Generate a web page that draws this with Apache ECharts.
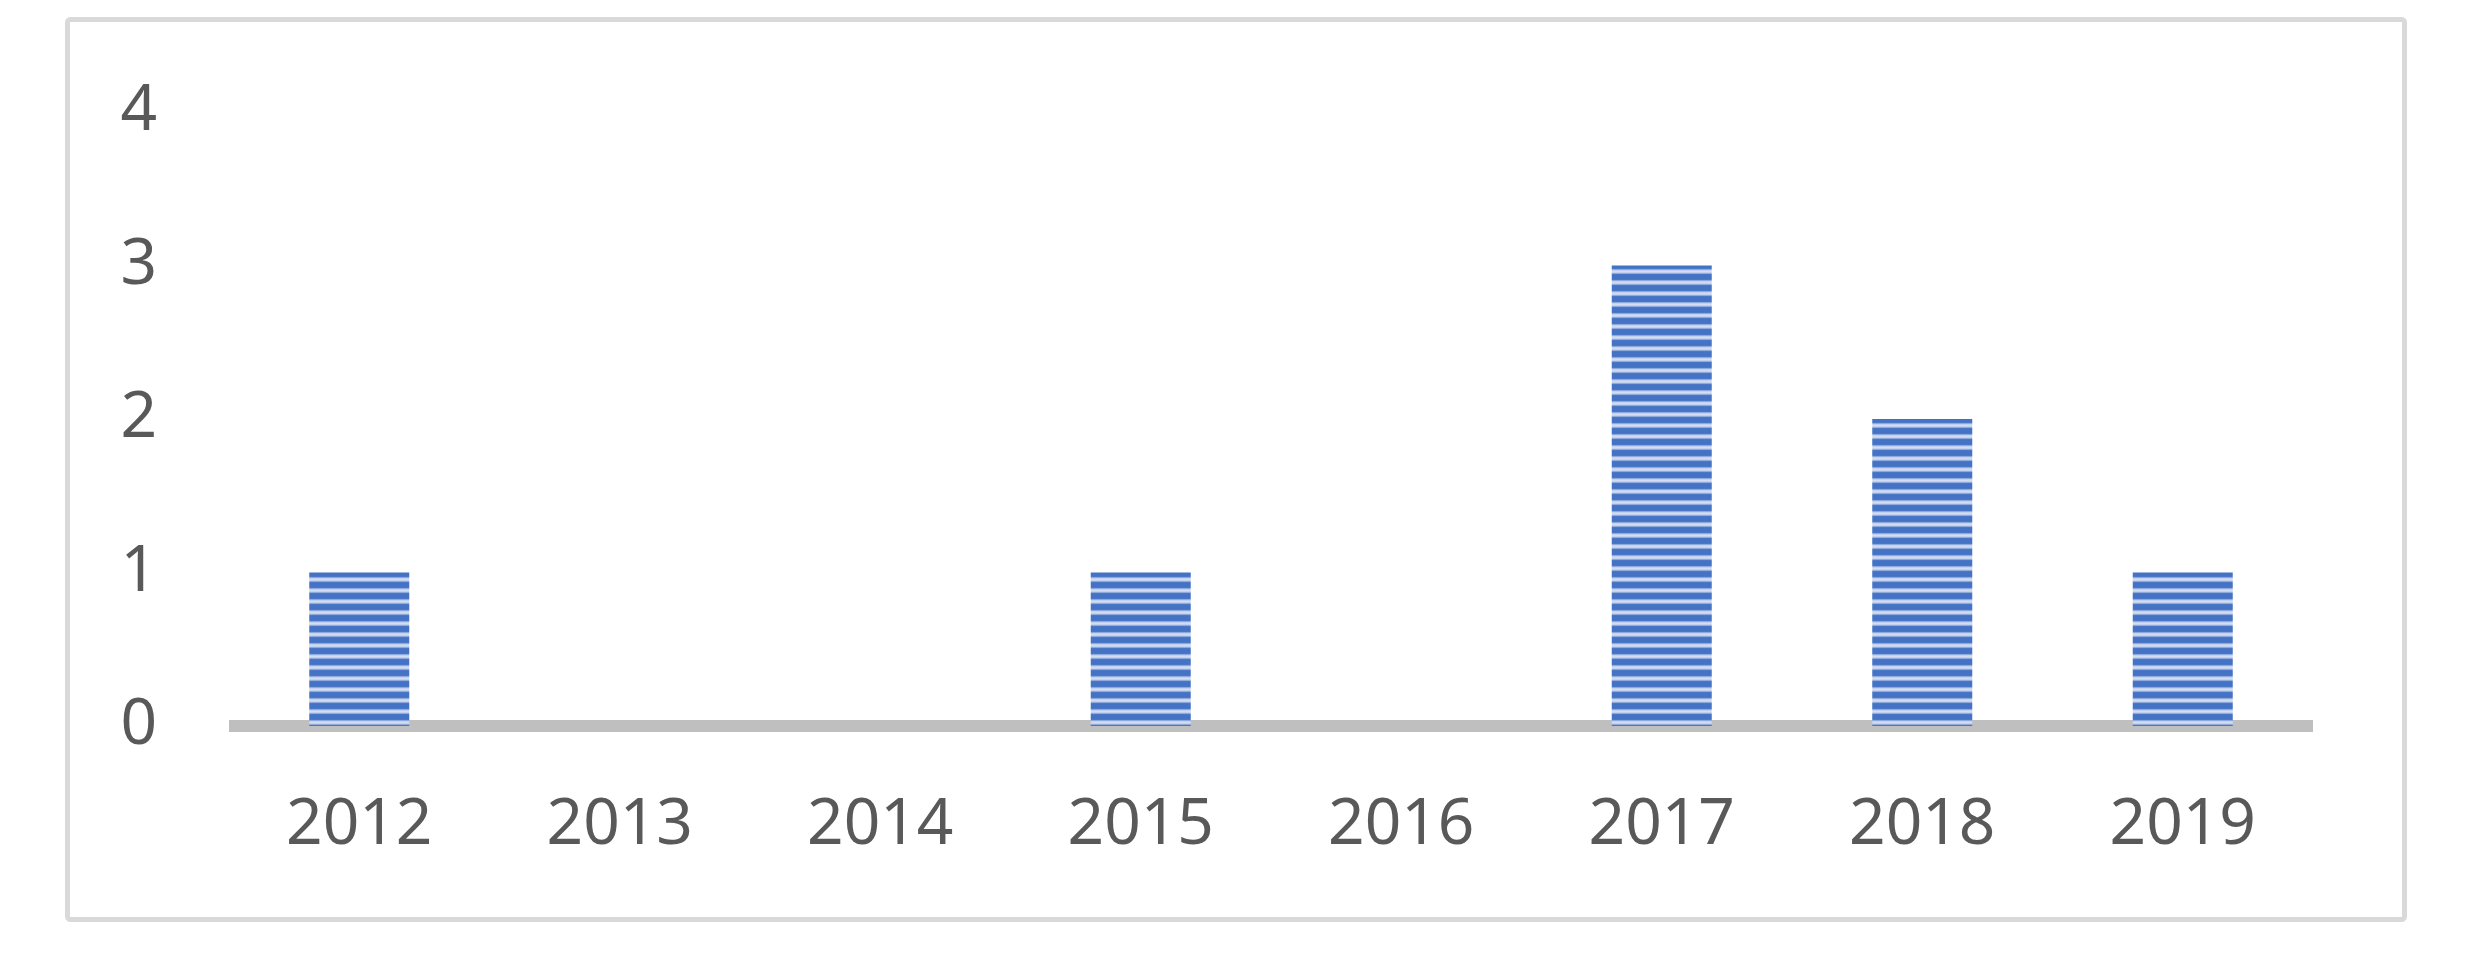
<!DOCTYPE html>
<html>
<head>
<meta charset="utf-8">
<script src="https://cdn.jsdelivr.net/npm/echarts@6/dist/echarts.min.js"></script>
<style>
  html, body { margin: 0; padding: 0; background: #fff; }
  #chart { width: 2484px; height: 972px; }
</style>
</head>
<body>
<div id="chart"></div>
<script>
const years = ['2012', '2013', '2014', '2015', '2016', '2017', '2018', '2019']
const counts = [1, 0, 0, 1, 0, 3, 2, 1]
const yTicks = [0, 1, 2, 3, 4]

// horizontal stripe pattern for bars
function stripes() {
  const c = document.createElement('canvas')
  c.width = 8
  c.height = 11
  const ctx = c.getContext('2d')
  const rows = ['#4472c4', '#4472c4', '#4472c4', '#4472c4', '#4a77c6',
    '#8ea9db', '#c3d1ee', '#d2ddf2', '#c3d1ee', '#8ea9db', '#4a77c6']
  rows.forEach((col, i) => {
    ctx.fillStyle = col
    ctx.fillRect(0, i, 8, 1)
  })
  return c
}

const chart = echarts.init(document.getElementById('chart'))
chart.setOption({
  animation: false,
  backgroundColor: '#fff',
  textStyle: { fontFamily: 'Noto Sans' },
  graphic: [{
    type: 'rect',
    shape: { x: 67.5, y: 19.5, width: 2337, height: 900, r: 3 },
    style: { fill: 'none', stroke: '#d9d9d9', lineWidth: 5 }
  }],
  grid: { left: 229, right: 171, top: 112, bottom: 246 },
  xAxis: {
    type: 'category',
    data: years,
    axisTick: { show: false },
    axisLine: { lineStyle: { color: '#bfbfbf', width: 12, cap: 'butt' } },
    axisLabel: { color: '#595959', fontSize: 64, margin: 68 }
  },
  yAxis: {
    type: 'value',
    min: yTicks[0],
    max: yTicks[yTicks.length - 1],
    interval: 1,
    splitLine: { show: false },
    axisLine: { show: false },
    axisTick: { show: false },
    axisLabel: { color: '#595959', fontSize: 64, margin: 72 }
  },
  series: [{
    type: 'bar',
    data: counts,
    barWidth: 100,
    itemStyle: { color: { image: stripes(), repeat: 'repeat' } }
  }]
})
</script>
</body>
</html>
